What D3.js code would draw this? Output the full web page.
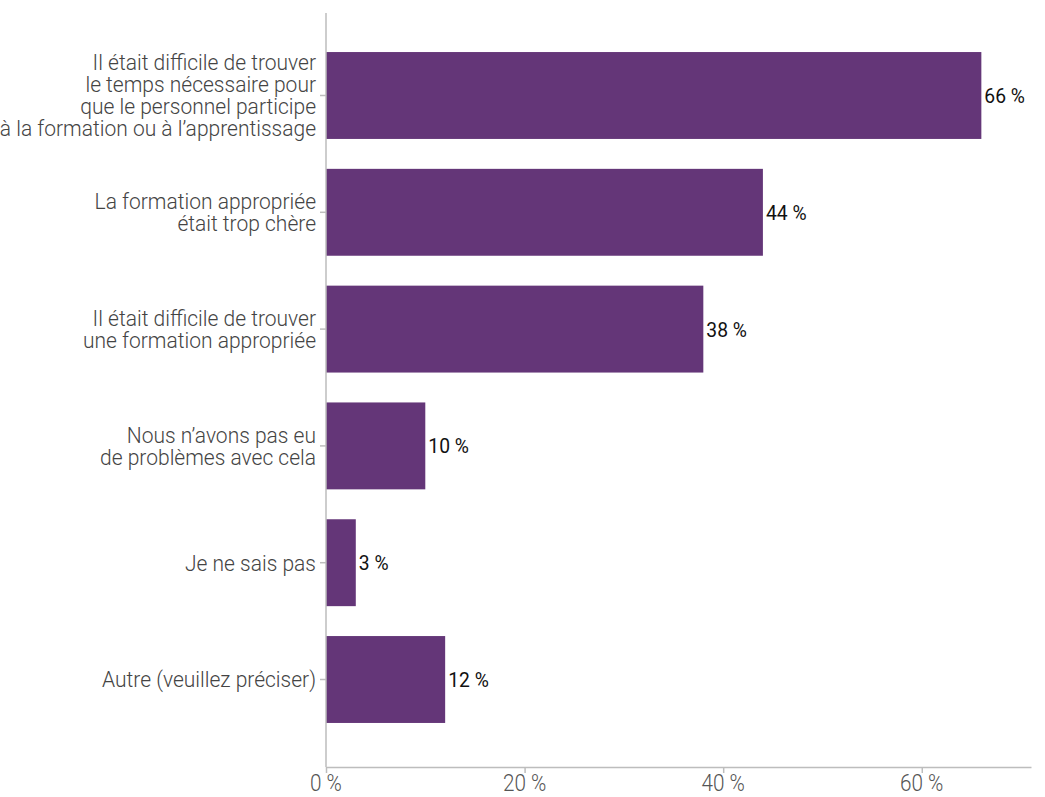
<!DOCTYPE html>
<html lang="fr">
<head>
<meta charset="utf-8">
<script src="https://cdn.jsdelivr.net/npm/d3@7"></script>
<style>
  html, body { margin: 0; padding: 0; background: #fff; }
  svg { display: block; }
  .cat { font-family: Roboto, "Liberation Sans", sans-serif; font-weight: 300; font-size: 22px; fill: #444; }
  .val { font-family: Roboto, "Liberation Sans", sans-serif; font-weight: 400; font-size: 21px; fill: #111; }
  .tick-lbl { font-family: Roboto, "Liberation Sans", sans-serif; font-weight: 300; font-size: 23px; fill: #555; }
</style>
</head>
<body>
<svg id="chart" width="1045" height="797"></svg>
<script>
// Obstacles to staff training: share of respondents
const categories = [
  ["Il était difficile de trouver", "le temps nécessaire pour", "que le personnel participe", "à la formation ou à l’apprentissage"],
  ["La formation appropriée", "était trop chère"],
  ["Il était difficile de trouver", "une formation appropriée"],
  ["Nous n’avons pas eu", "de problèmes avec cela"],
  ["Je ne sais pas"],
  ["Autre (veuillez préciser)"]
];
const values = [66, 44, 38, 10, 3, 12];
const xTicks = [0, 20, 40, 60];

const barColor = "#643678";
const axisColor = "#bdbdbd";

const svg = d3.select("#chart");
const x0 = 326, x1 = 1031, yTop = 13, yBottom = 767;

const x = d3.scaleLinear().domain([0, 71]).range([x0, x1]);
const y = d3.scaleBand()
  .domain(d3.range(categories.length))
  .range([13.5, 761.5])
  .paddingInner(0.256)
  .paddingOuter(0.33);

// Bars
svg.append("g").selectAll("rect")
  .data(values)
  .join("rect")
  .attr("x", x(0))
  .attr("y", (d, i) => y(i))
  .attr("width", d => x(d) - x(0))
  .attr("height", y.bandwidth())
  .attr("fill", barColor);

// Horizontal axis
const xAxis = svg.append("g")
  .attr("transform", `translate(0,${yBottom})`)
  .call(d3.axisBottom(x).tickValues(xTicks).tickSize(6).tickSizeOuter(0).tickFormat(""));
xAxis.select(".domain").attr("stroke", axisColor).attr("stroke-width", 1.5);
xAxis.selectAll(".tick line").attr("stroke", axisColor).attr("stroke-width", 1.5);

// Condensed tick labels
svg.append("g").selectAll("text")
  .data(xTicks)
  .join("text")
  .attr("class", "tick-lbl")
  .attr("text-anchor", "middle")
  .attr("transform", d => `translate(${x(d)},791) scale(0.9,1)`)
  .text(d => d + " %");

// Vertical axis: ticks at band centres, full-height spine
const yAxis = svg.append("g")
  .attr("transform", `translate(${x0},0)`)
  .call(d3.axisLeft(y).tickSize(6).tickSizeOuter(0).tickFormat(""));
yAxis.select(".domain").remove();
yAxis.selectAll(".tick line").attr("stroke", axisColor).attr("stroke-width", 1.5);
svg.append("line")
  .attr("x1", x0).attr("x2", x0)
  .attr("y1", yTop).attr("y2", yBottom)
  .attr("stroke", axisColor).attr("stroke-width", 1.5);

// Multi-line category labels, right-aligned against the axis
const lineH = 22;
svg.append("g").selectAll("text")
  .data(categories)
  .join("text")
  .attr("class", "cat")
  .attr("text-anchor", "end")
  .attr("transform", (d, i) => `translate(316,${y(i) + y.bandwidth() / 2}) scale(0.955,1)`)
  .each(function(lines) {
    const t = d3.select(this);
    lines.forEach((line, k) => {
      t.append("tspan")
        .attr("x", 0)
        .attr("y", (k - (lines.length - 1) / 2) * lineH)
        .attr("dy", "0.36em")
        .text(line);
    });
  });

// Value labels at bar ends
svg.append("g").selectAll("text")
  .data(values)
  .join("text")
  .attr("class", "val")
  .attr("transform", (d, i) => `translate(${x(d) + 3},${y(i) + y.bandwidth() / 2}) scale(0.92,1)`)
  .attr("dy", "0.36em")
  .text(d => d + " %");
</script>
</body>
</html>
